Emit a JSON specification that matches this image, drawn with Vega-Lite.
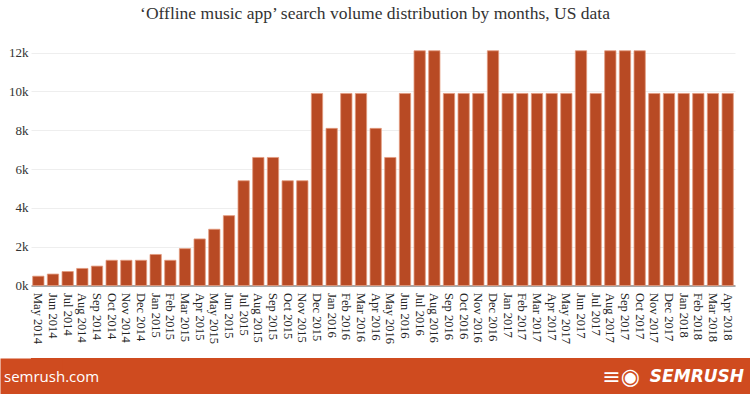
{
  "$schema": "https://vega.github.io/schema/vega-lite/v6.json",
  "background": "white",
  "padding": {"left": 0, "right": 0, "top": 4, "bottom": 0},
  "spacing": 0,
  "config": {"view": {"stroke": null}, "concat": {"spacing": 0}},
  "title": {
    "text": "‘Offline music app’ search volume distribution by months, US data",
    "font": "Liberation Serif",
    "fontSize": 17.5,
    "fontWeight": "normal",
    "color": "#333333",
    "anchor": "middle",
    "offset": 21
  },
  "vconcat": [
    {
      "width": 704,
      "height": 242.5,
      "data": {
        "values": [
          {"month": "May 2014", "volume": 480},
          {"month": "Jun 2014", "volume": 590},
          {"month": "Jul 2014", "volume": 720},
          {"month": "Aug 2014", "volume": 880},
          {"month": "Sep 2014", "volume": 1000},
          {"month": "Oct 2014", "volume": 1300},
          {"month": "Nov 2014", "volume": 1300},
          {"month": "Dec 2014", "volume": 1300},
          {"month": "Jan 2015", "volume": 1600},
          {"month": "Feb 2015", "volume": 1300},
          {"month": "Mar 2015", "volume": 1900},
          {"month": "Apr 2015", "volume": 2400},
          {"month": "May 2015", "volume": 2900},
          {"month": "Jun 2015", "volume": 3600},
          {"month": "Jul 2015", "volume": 5400},
          {"month": "Aug 2015", "volume": 6600},
          {"month": "Sep 2015", "volume": 6600},
          {"month": "Oct 2015", "volume": 5400},
          {"month": "Nov 2015", "volume": 5400},
          {"month": "Dec 2015", "volume": 9900},
          {"month": "Jan 2016", "volume": 8100},
          {"month": "Feb 2016", "volume": 9900},
          {"month": "Mar 2016", "volume": 9900},
          {"month": "Apr 2016", "volume": 8100},
          {"month": "May 2016", "volume": 6600},
          {"month": "Jun 2016", "volume": 9900},
          {"month": "Jul 2016", "volume": 12100},
          {"month": "Aug 2016", "volume": 12100},
          {"month": "Sep 2016", "volume": 9900},
          {"month": "Oct 2016", "volume": 9900},
          {"month": "Nov 2016", "volume": 9900},
          {"month": "Dec 2016", "volume": 12100},
          {"month": "Jan 2017", "volume": 9900},
          {"month": "Feb 2017", "volume": 9900},
          {"month": "Mar 2017", "volume": 9900},
          {"month": "Apr 2017", "volume": 9900},
          {"month": "May 2017", "volume": 9900},
          {"month": "Jun 2017", "volume": 12100},
          {"month": "Jul 2017", "volume": 9900},
          {"month": "Aug 2017", "volume": 12100},
          {"month": "Sep 2017", "volume": 12100},
          {"month": "Oct 2017", "volume": 12100},
          {"month": "Nov 2017", "volume": 9900},
          {"month": "Dec 2017", "volume": 9900},
          {"month": "Jan 2018", "volume": 9900},
          {"month": "Feb 2018", "volume": 9900},
          {"month": "Mar 2018", "volume": 9900},
          {"month": "Apr 2018", "volume": 9900}
        ]
      },
      "mark": {"type": "bar", "color": "#b84a24", "stroke": "#e39a7e", "strokeWidth": 0.8},
      "encoding": {
        "x": {
          "field": "month",
          "type": "ordinal",
          "sort": null,
          "scale": {"paddingInner": 0.23, "paddingOuter": 0.115},
          "axis": {
            "title": null,
            "labelAngle": 90,
            "labelAlign": "left",
            "labelBaseline": "middle",
            "labelFont": "Liberation Serif",
            "labelFontSize": 12.5,
            "labelColor": "#222222",
            "labelPadding": 7,
            "ticks": false,
            "domainColor": "#a8a8a8",
            "domainWidth": 2,
            "minExtent": 72,
            "maxExtent": 72
          }
        },
        "y": {
          "field": "volume",
          "type": "quantitative",
          "scale": {"domain": [0, 12500], "nice": false},
          "axis": {
            "title": null,
            "values": [0, 2000, 4000, 6000, 8000, 10000, 12000],
            "format": "~s",
            "labelFont": "Liberation Serif",
            "labelFontSize": 13,
            "labelColor": "#333333",
            "labelPadding": 3,
            "ticks": false,
            "domain": false,
            "gridColor": "#eeeeee",
            "gridWidth": 1,
            "minExtent": 31,
            "maxExtent": 31
          }
        }
      }
    },
    {
      "width": 719,
      "height": 37,
      "view": {"fill": "#cf4b1f", "stroke": null},
      "encoding": {
        "y": {
          "datum": 0.5,
          "type": "quantitative",
          "scale": {"domain": [0, 1]},
          "axis": {
            "title": null,
            "labels": false,
            "ticks": false,
            "grid": false,
            "domain": true,
            "domainColor": "#cf4b1f",
            "domainWidth": 62,
            "domainCap": "butt",
            "minExtent": 0,
            "maxExtent": 0
          }
        }
      },
      "layer": [
        {
          "data": {"values": [{"label": "semrush.com"}]},
          "mark": {"type": "text", "align": "left", "baseline": "middle", "dx": -27, "font": "Open Sans", "fontSize": 15, "color": "white"},
          "encoding": {
            "x": {"datum": 0, "type": "quantitative", "scale": {"domain": [0, 1]}, "axis": null},
            "text": {"field": "label"}
          }
        },
        {
          "data": {"values": [{"label": "SEMRUSH"}]},
          "mark": {"type": "text", "align": "right", "baseline": "middle", "dx": -6, "font": "DejaVu Sans", "fontSize": 17, "fontWeight": "bold", "fontStyle": "italic", "color": "white"},
          "encoding": {
            "x": {"datum": 1, "type": "quantitative", "scale": {"domain": [0, 1]}, "axis": null},
            "text": {"field": "label"}
          }
        },
        {
          "data": {"values": [{"label": "≡◉"}]},
          "mark": {"type": "text", "align": "right", "baseline": "middle", "dx": -110, "font": "DejaVu Sans", "fontSize": 22, "color": "white"},
          "encoding": {
            "x": {"datum": 1, "type": "quantitative", "scale": {"domain": [0, 1]}, "axis": null},
            "text": {"field": "label"}
          }
        }
      ]
    }
  ]
}
